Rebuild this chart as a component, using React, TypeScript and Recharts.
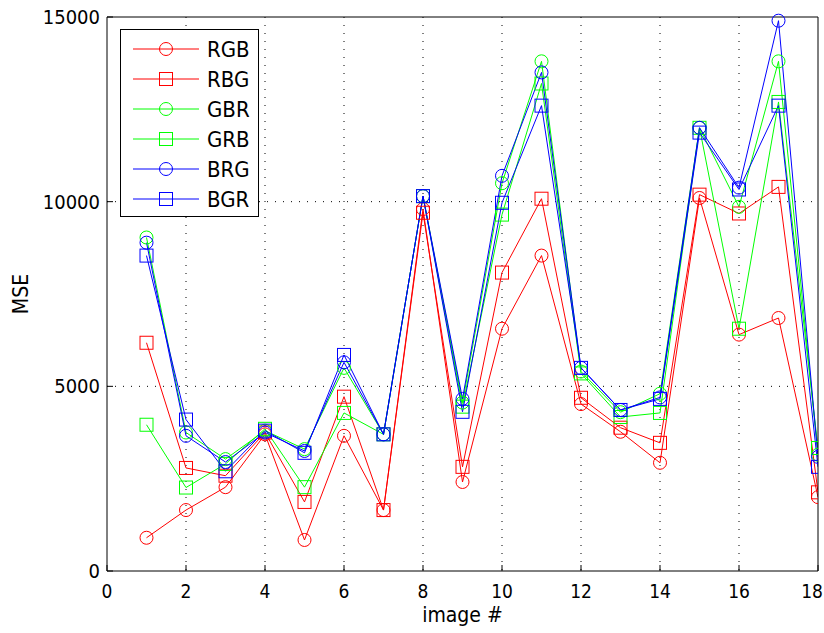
import React from 'react';
import { LineChart, Line, XAxis, YAxis, CartesianGrid, Legend } from 'recharts';

const imageIds = [1, 2, 3, 4, 5, 6, 7, 8, 9, 10, 11, 12, 13, 14, 15, 16, 17, 18];
const rgb = [900, 1650, 2270, 3700, 840, 3660, 1650, 9800, 2410, 6560, 8540, 4520, 3770, 2930, 10100, 6400, 6850, 2000];
const rbg = [6180, 2790, 2580, 3750, 1870, 4720, 1650, 9700, 2820, 8080, 10080, 4690, 3880, 3470, 10190, 9680, 10400, 2130];
const gbr = [9030, 3750, 3030, 3800, 3300, 5500, 3700, 10150, 4560, 10500, 13800, 5400, 4300, 4800, 12000, 9860, 13800, 3150];
const grb = [3960, 2260, 2900, 3850, 2270, 4280, 3700, 10150, 4450, 9650, 13200, 5350, 4170, 4280, 12000, 6560, 12700, 3330];
const brg = [8890, 3660, 2950, 3750, 3250, 5650, 3700, 10150, 4660, 10700, 13500, 5500, 4360, 4700, 12000, 10380, 14900, 3090];
const bgr = [8540, 4100, 2700, 3800, 3200, 5850, 3700, 10150, 4310, 9970, 12600, 5500, 4360, 4660, 11870, 10330, 12600, 2820];

const xTicks = [0, 2, 4, 6, 8, 10, 12, 14, 16, 18];
const yTicks = [0, 5000, 10000, 15000];

const series = [
  { key: 'RGB', values: rgb, color: '#ff0000', marker: 'circle' },
  { key: 'RBG', values: rbg, color: '#ff0000', marker: 'square' },
  { key: 'GBR', values: gbr, color: '#00ff00', marker: 'circle' },
  { key: 'GRB', values: grb, color: '#00ff00', marker: 'square' },
  { key: 'BRG', values: brg, color: '#0000ff', marker: 'circle' },
  { key: 'BGR', values: bgr, color: '#0000ff', marker: 'square' },
];

const data = imageIds.map((id, i) => {
  const row: Record<string, number> = { image: id };
  series.forEach((s) => {
    row[s.key] = s.values[i];
  });
  return row;
});

const FONT = "'Liberation Sans Narrow', 'DejaVu Sans Condensed', 'Liberation Sans', sans-serif";

function Marker({ cx, cy, color, marker }: { cx: number; cy: number; color: string; marker: string }) {
  if (marker === 'circle') {
    return <circle cx={cx} cy={cy} r={6.5} fill="none" stroke={color} strokeWidth={1} />;
  }
  return <rect x={cx - 6.5} y={cy - 6.5} width={13} height={13} fill="none" stroke={color} strokeWidth={1} />;
}

function LegendBox() {
  return (
    <div
      style={{
        width: 137,
        height: 186,
        border: '1px solid #000',
        background: '#fff',
        boxSizing: 'content-box',
      }}
    >
      <svg width={137} height={186}>
        {series.map((s, i) => {
          const y = 19 + i * 30;
          return (
            <g key={s.key}>
              <line x1={12} x2={78} y1={y} y2={y} stroke={s.color} strokeWidth={1} />
              <Marker cx={45} cy={y} color={s.color} marker={s.marker} />
              <text x={86} y={y} dominantBaseline="central" fontFamily={FONT} fontSize={22} fill="#000">
                {s.key}
              </text>
            </g>
          );
        })}
      </svg>
    </div>
  );
}

function XTick(props: any) {
  const { x, y, payload } = props;
  const last = payload.value === 18;
  return (
    <text
      x={last ? x + 5 : x}
      y={y}
      dy={14}
      textAnchor={last ? 'end' : 'middle'}
      fontFamily={FONT}
      fontSize={19}
      fill="#000"
    >
      {payload.value}
    </text>
  );
}

export default function App() {
  return (
    <div style={{ position: 'absolute', left: 0, top: 0, width: 824, height: 633, background: '#fff' }}>
      <LineChart
        width={824}
        height={633}
        data={data}
        margin={{ top: 16, right: 5, bottom: 22, left: 47 }}
        style={{ fontFamily: FONT }}
      >
        <CartesianGrid
          stroke="#000"
          strokeDasharray="1 7"
          strokeWidth={1}
          horizontalValues={[5000, 10000]}
          verticalValues={[2, 4, 6, 8, 10, 12, 14, 16]}
        />
        <XAxis
          dataKey="image"
          type="number"
          domain={[0, 18]}
          ticks={xTicks}
          interval={0}
          allowDataOverflow
          height={40}
          tickSize={-6}
          tickMargin={19}
          stroke="#000"
          tick={<XTick />}
          label={{ value: 'image #', position: 'bottom', offset: -4, fill: '#000', fontSize: 21, fontFamily: FONT }}
        />
        <XAxis
          xAxisId="top"
          orientation="top"
          dataKey="image"
          type="number"
          domain={[0, 18]}
          ticks={xTicks}
          interval={0}
          height={1}
          tickSize={-6}
          stroke="#000"
          tick={false}
        />
        <YAxis
          type="number"
          domain={[0, 15000]}
          ticks={yTicks}
          interval={0}
          width={60}
          tickSize={-6}
          tickMargin={13}
          stroke="#000"
          tick={{ fill: '#000', fontSize: 20, fontFamily: FONT }}
          label={{
            content: (props: any) => {
              const vb = props.viewBox || { y: 17, height: 554 };
              const cy = vb.y + vb.height / 2;
              return (
                <text
                  x={21}
                  y={cy}
                  transform={`rotate(-90 21 ${cy})`}
                  textAnchor="middle"
                  dominantBaseline="central"
                  fontFamily={FONT}
                  fontSize={21}
                  fill="#000"
                >
                  MSE
                </text>
              );
            },
          }}
        />
        <YAxis
          yAxisId="right"
          orientation="right"
          type="number"
          domain={[0, 15000]}
          ticks={yTicks}
          interval={0}
          width={1}
          tickSize={-6}
          stroke="#000"
          tick={false}
        />
        {series.map((s) => (
          <Line
            key={s.key}
            type="linear"
            dataKey={s.key}
            name={s.key}
            stroke={s.color}
            strokeWidth={1}
            isAnimationActive={false}
            dot={(p: any) => <Marker key={`${s.key}-${p.index}`} cx={p.cx} cy={p.cy} color={s.color} marker={s.marker} />}
            activeDot={false}
          />
        ))}
        <Legend
          layout="horizontal"
          verticalAlign="middle"
          align="center"
          wrapperStyle={{ left: 120, top: 29, width: 139, height: 188 }}
          content={() => <LegendBox />}
        />
      </LineChart>
    </div>
  );
}
